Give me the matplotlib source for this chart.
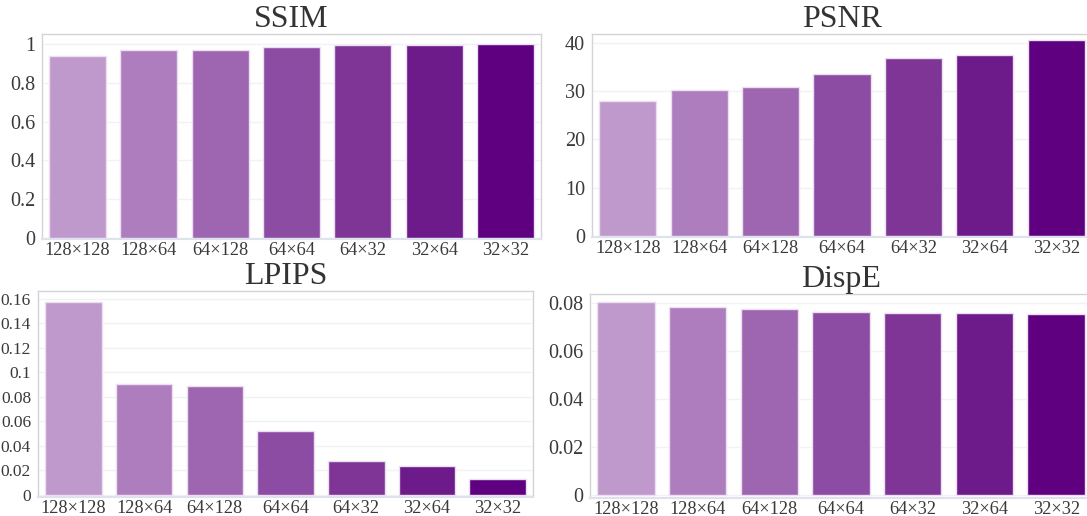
import numpy as np
import matplotlib.pyplot as plt
from matplotlib.ticker import FuncFormatter

plt.rcParams['font.family'] = ['Liberation Serif', 'DejaVu Serif']

# patch sizes compared
sizes = ['128×128', '128×64', '64×128', '64×64', '64×32', '32×64', '32×32']

ssim = [0.941, 0.969, 0.971, 0.986, 0.996, 0.995, 1.0]
psnr = [28.0, 30.3, 30.85, 33.5, 36.9, 37.5, 40.6]
lpips = [0.1575, 0.0902, 0.0886, 0.0519, 0.028, 0.0236, 0.0128]
dispe = [0.0807, 0.0786, 0.0778, 0.0765, 0.0760, 0.0760, 0.0757]

colors = ['#bf99cc', '#ad7dbd', '#9e66b0', '#8c4ca3', '#7e3596', '#6d1a8a', '#5e0080']

W, H = 1087, 516
fig = plt.figure(figsize=(W / 100, H / 100), dpi=100)


def box(l, t, r, b):
    return [l / W, 1 - b / H, (r - l) / W, (b - t) / H]


def fmt(v, pos):
    return '%g' % round(v, 6)


def panel(rect, vals, title, ylim, yticks, tick_fs=14.5):
    ax = fig.add_axes(box(*rect))
    x = np.arange(len(sizes))
    ax.bar(x, vals, width=0.8, color=colors, edgecolor='#ecdff2', linewidth=1.0, zorder=2)
    ax.set_xlim(-0.5, len(sizes) - 0.5)
    ax.set_ylim(*ylim)
    ax.set_yticks(yticks)
    ax.yaxis.set_major_formatter(FuncFormatter(fmt))
    ax.set_xticks(x)
    ax.set_xticklabels(sizes)
    ax.grid(axis='y', color='#f1f2f7', linewidth=1.0, zorder=0)
    ax.set_axisbelow(True)
    for s in ['top', 'right', 'left']:
        ax.spines[s].set_color('#d4d4d8')
        ax.spines[s].set_linewidth(1.0)
    ax.spines['bottom'].set_color('#dde2ec')
    ax.spines['bottom'].set_linewidth(1.5)
    ax.tick_params(axis='y', length=0, pad=5, labelsize=tick_fs, labelcolor='#3a3a3a')
    ax.tick_params(axis='x', length=0, pad=2, labelsize=13.2, labelcolor='#3a3a3a')
    ax.set_title(title, fontsize=23, color='#333333', pad=0)
    return ax


panel((42, 34, 541, 239), ssim, 'SSIM', (-0.006, 1.052), [0, 0.2, 0.4, 0.6, 0.8, 1.0])
panel((592, 34, 1092, 237), psnr, 'PSNR', (-0.27, 41.9), [0, 10, 20, 30, 40])
panel((38, 291, 533, 497), lpips, 'LPIPS', (-0.0016, 0.1663),
      [0, 0.02, 0.04, 0.06, 0.08, 0.1, 0.12, 0.14, 0.16], tick_fs=12.5)
panel((590, 294, 1092, 498), dispe, 'DispE', (-0.00125, 0.0839),
      [0, 0.02, 0.04, 0.06, 0.08])

fig.savefig('out.png', dpi=100)
